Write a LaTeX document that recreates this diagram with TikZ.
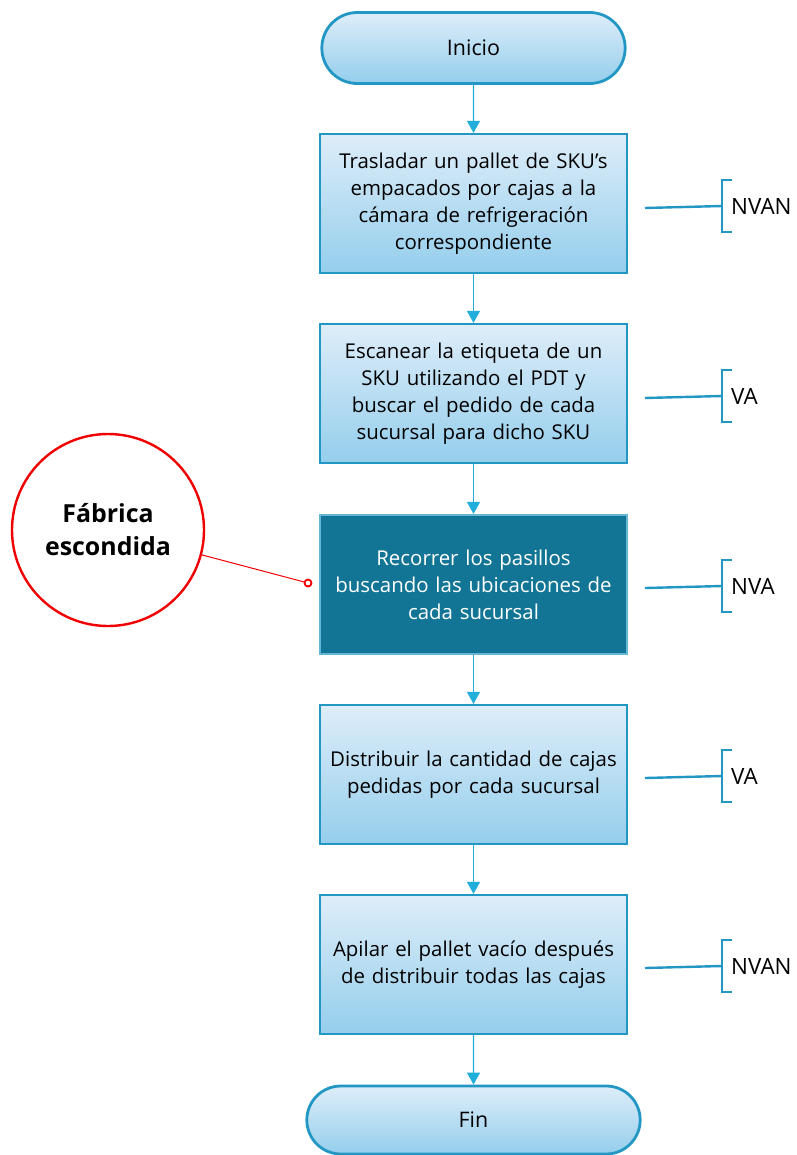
\documentclass[tikz,border=0pt]{standalone}
\usepackage{fontspec}
\setmainfont{Open Sans}
\usetikzlibrary{shapes.misc,arrows.meta,positioning}
\definecolor{azulborde}{HTML}{2397C4}
\definecolor{azulflecha}{HTML}{22AEDB}
\definecolor{azulclaro}{HTML}{DEEDF9}
\definecolor{azulmedio}{HTML}{94CEEC}
\definecolor{azuloscuro}{HTML}{137595}
\definecolor{rojo}{HTML}{F00000}
\tikzset{
  paso/.style={draw=azulborde, line width=2.2bp, top color=azulclaro, bottom color=azulmedio,
    minimum width=303bp, minimum height=139bp, align=center, text width=300bp,
    font=\fontsize{20.5}{27}\selectfont},
  pasooscuro/.style={paso, fill=azuloscuro, top color=azuloscuro, bottom color=azuloscuro,
    draw=azulborde!70!white, text=white},
  terminal/.style={draw=azulborde, line width=2.8bp, rounded rectangle, top color=azulclaro,
    bottom color=azulmedio, font=\fontsize{21.5}{26}\selectfont},
  flecha/.style={draw=azulflecha, line width=1.3bp, -{Triangle[width=13bp,length=12bp]}},
  llave/.style={draw=azulborde, line width=2.4bp},
  etiqueta/.style={anchor=west, font=\fontsize{22.5}{26}\selectfont, inner sep=0pt}
}
\begin{document}
\begin{tikzpicture}[x=1bp,y=-1bp]
\useasboundingbox (0,0) rectangle (797,1155);
\node[terminal, minimum width=310bp, minimum height=71bp, text width=288bp, align=center] (inicio) at (473.5,48) {Inicio};
\node[paso] (traslado) at (473.5,203.5) {Trasladar un pallet de SKU’s\\ empacados por cajas a la\\ cámara de refrigeración\\ correspondiente};
\node[paso] (escaneo) at (473.5,393.5) {Escanear la etiqueta de un\\ SKU utilizando el PDT y\\ buscar el pedido de cada\\ sucursal para dicho SKU};
\node[pasooscuro] (recorrido) at (473.5,584.5) {Recorrer los pasillos\\ buscando las ubicaciones de\\ cada sucursal};
\node[paso] (distribucion) at (473.5,774.5) {Distribuir la cantidad de cajas\\ pedidas por cada sucursal};
\node[paso] (apilado) at (473.5,964.5) {Apilar el pallet vacío después\\ de distribuir todas las cajas};
\node[terminal, minimum width=340bp, minimum height=68bp, text width=318bp, align=center] (fin) at (473.5,1120) {Fin};
\draw[flecha] (inicio) -- (traslado);
\draw[flecha] (traslado) -- (escaneo);
\draw[flecha] (escaneo) -- (recorrido);
\draw[flecha] (recorrido) -- (distribucion);
\draw[flecha] (distribucion) -- (apilado);
\draw[flecha] (apilado) -- (fin);
% clasificacion de cada paso
\foreach \y/\tipo/\n in {206/NVAN/1, 396/VA/2, 586/NVA/3, 776/VA/4, 966/NVAN/5}{
  \coordinate (ini\n) at (645,\y+2);
  \coordinate (llave\n) at (722,\y);
  \draw[llave] (ini\n) -- (llave\n);
  \draw[llave] ([xshift=10bp,yshift=26bp]llave\n) -| ([yshift=26bp]llave\n) -- ([yshift=-26bp]llave\n) -- ([xshift=10bp,yshift=-26bp]llave\n);
  \node[etiqueta] (tipo\n) at ([xshift=9bp]llave\n) {\tipo};
}
% fabrica escondida
\node[circle, draw=rojo, line width=2.4bp, minimum size=192bp, align=center,
  font=\fontsize{25}{33}\selectfont\bfseries] (fabrica) at (108,530) {Fábrica\\ escondida};
\node[circle, draw=rojo, line width=1.8bp, inner sep=0pt, minimum size=7bp] (punta) at (308,583) {};
\draw[rojo, line width=1bp] (fabrica) -- (punta);
\end{tikzpicture}
\end{document}
